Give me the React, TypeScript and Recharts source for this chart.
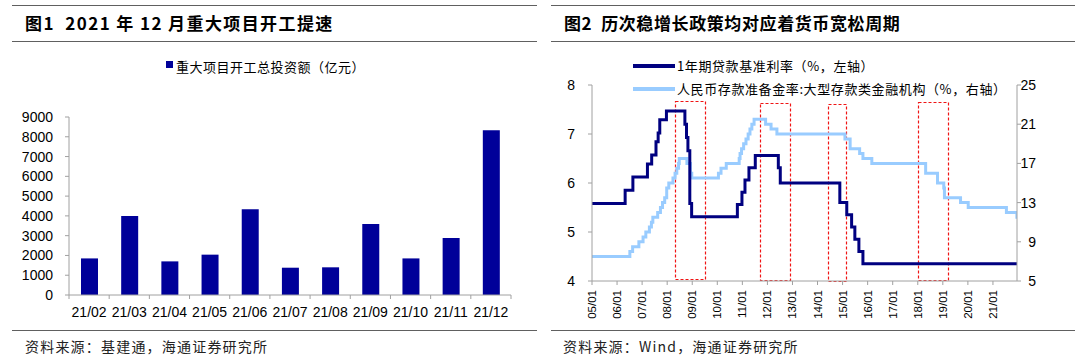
import React from 'react';
import { BarChart, Bar, XAxis, YAxis, LineChart, Line, ReferenceArea } from 'recharts';

// 图1 数据
const months = ['21/02', '21/03', '21/04', '21/05', '21/06', '21/07', '21/08', '21/09', '21/10', '21/11', '21/12'];
const investment = [1850, 4000, 1700, 2040, 4340, 1380, 1400, 3590, 1850, 2880, 8330];
const investTicks = [0, 1000, 2000, 3000, 4000, 5000, 6000, 7000, 8000, 9000];

// 图2 数据：调整日期与调整后的值
const loanDates = [
  '2005-01-01', '2006-04-28', '2006-08-19', '2007-03-18', '2007-05-19', '2007-07-21', '2007-08-22',
  '2007-09-15', '2007-12-21', '2008-09-16', '2008-10-09', '2008-10-30', '2008-11-27', '2008-12-23',
  '2010-10-20', '2010-12-26', '2011-02-09', '2011-04-06', '2011-07-07', '2012-06-08', '2012-07-06',
  '2014-11-22', '2015-03-01', '2015-05-11', '2015-06-28', '2015-08-26', '2015-10-24', '2021-12-31',
];
const loanRates = [
  5.58, 5.85, 6.12, 6.39, 6.57, 6.84, 7.02,
  7.29, 7.47, 7.2, 6.93, 6.66, 5.58, 5.31,
  5.56, 5.81, 6.06, 6.31, 6.56, 6.31, 6.0,
  5.6, 5.35, 5.1, 4.85, 4.6, 4.35, 4.35,
];
const rrrDates = [
  '2005-01-01', '2006-07-05', '2006-08-15', '2006-11-15', '2007-01-15', '2007-02-25', '2007-04-16',
  '2007-05-15', '2007-06-05', '2007-08-15', '2007-09-25', '2007-10-25', '2007-11-26', '2007-12-25',
  '2008-01-25', '2008-03-25', '2008-04-25', '2008-05-20', '2008-06-15', '2008-06-25', '2008-10-15',
  '2008-12-05', '2008-12-25', '2010-01-18', '2010-02-25', '2010-05-10', '2010-11-16', '2010-11-29',
  '2010-12-20', '2011-01-20', '2011-02-24', '2011-03-25', '2011-04-21', '2011-05-18', '2011-06-20',
  '2011-12-05', '2012-02-24', '2012-05-18', '2015-02-05', '2015-04-20', '2015-09-06', '2015-10-24',
  '2016-03-01', '2018-04-25', '2018-10-15', '2019-01-15', '2019-01-25', '2019-09-16', '2020-01-06',
  '2021-07-15', '2021-12-15', '2021-12-31',
];
const rrrValues = [
  7.5, 8.0, 8.5, 9.0, 9.5, 10.0, 10.5,
  11.0, 11.5, 12.0, 12.5, 13.0, 13.5, 14.5,
  15.0, 15.5, 16.0, 16.5, 17.0, 17.5, 17.0,
  16.0, 15.5, 16.0, 16.5, 17.0, 17.5, 18.0,
  18.5, 19.0, 19.5, 20.0, 20.5, 21.0, 21.5,
  21.0, 20.5, 20.0, 19.5, 18.5, 18.0, 17.5,
  17.0, 16.0, 15.0, 14.5, 13.5, 13.0, 12.5,
  12.0, 11.5, 11.5,
];
const yearTicks = [2005, 2006, 2007, 2008, 2009, 2010, 2011, 2012, 2013, 2014, 2015, 2016, 2017, 2018, 2019, 2020, 2021];
const leftTicks = [4, 5, 6, 7, 8];
const rightTicks = [5, 9, 13, 17, 21, 25];

// 红色虚线框（宽松周期）
const boxFrom = [2008.33, 2011.72, 2014.43, 2018.0];
const boxTo = [2009.53, 2012.93, 2015.15, 2019.19];
const boxTop = [7.67, 7.64, 7.62, 7.65];
const boxBottom = [4.03, 4.02, 4.0, 4.02];

const toYear = (d: string) => {
  const [y, m, day] = d.split('-').map(Number);
  return y + (m - 1 + (day - 1) / 31) / 12;
};

const barData = months.map((m, i) => ({ month: m, value: investment[i] }));
const loanData = loanDates.map((d, i) => ({ t: toYear(d), loan: loanRates[i] }));
const rrrData = rrrDates.map((d, i) => ({ t: toYear(d), rrr: rrrValues[i] }));

const NUM_FONT = '"Liberation Sans", Arial, sans-serif';
const CJK_FONT = '"Noto Sans CJK SC", "Noto Sans", sans-serif';
const AXIS = '#a0a0a0';
const BOX_RED = '#f01414';

const BAR_W = 540;
const BAR_MARGIN = { top: 117, right: 29, bottom: 35, left: 0 };
const BAR_YAXIS_W = 69;
const BAND = (BAR_W - BAR_MARGIN.right - BAR_YAXIS_W) / months.length;

// 类目轴：刻度线位于类目之间
const MonthTick = (props: any) => {
  const { x, y, payload, index } = props;
  const axisY = y - 12;
  return (
    <g>
      <line x1={x - BAND / 2} x2={x - BAND / 2} y1={axisY} y2={axisY + 4} stroke={AXIS} />
      {index === months.length - 1 && (
        <line x1={x + BAND / 2} x2={x + BAND / 2} y1={axisY} y2={axisY + 4} stroke={AXIS} />
      )}
      <text x={x} y={y} dy="0.71em" textAnchor="middle" fontSize={14} fontFamily={NUM_FONT} fill="#000">
        {payload.value}
      </text>
    </g>
  );
};

const RotatedTick = (props: any) => {
  const { x, y, payload } = props;
  const yy = String(payload.value).slice(2);
  return (
    <text x={x} y={y} dy="0.35em" textAnchor="end" transform={`rotate(-90 ${x} ${y})`}
      fontSize={11.5} fontFamily={NUM_FONT} fill="#000">{`${yy}/01`}</text>
  );
};

const RightTick = (props: any) => {
  const { x, y, payload } = props;
  return (
    <text x={x + 11} y={y} dy="0.35em" textAnchor="end" fontSize={14} fontFamily={NUM_FONT} fill="#000">
      {payload.value}
    </text>
  );
};

const DashedBox = (props: any) => (
  <rect x={Math.round(props.x) + 0.5} y={Math.round(props.y) + 0.5}
    width={Math.round(props.width)} height={Math.round(props.height)}
    fill="none" stroke={BOX_RED} strokeWidth={1.2} strokeDasharray="3 2" />
);

const rule = (left: number, top: number, width: number): React.CSSProperties => ({
  position: 'absolute', left, top, width, height: 0, borderTop: '1.5px solid #606060',
});

const App: React.FC = () => {
  return (
    <div style={{ position: 'absolute', left: 0, top: 0, width: 1080, height: 360, background: '#fff', overflow: 'hidden' }}>
      {/* 图1 */}
      <div style={rule(12, 5, 525)} />
      <div style={rule(12, 41, 525)} />
      <div style={rule(12, 330, 525)} />
      <div style={{ position: 'absolute', left: 25, top: 10, fontFamily: CJK_FONT, fontWeight: 700, fontSize: 17, letterSpacing: 1.4, whiteSpace: 'pre' }}>
        图1  2021 年 12 月重大项目开工提速
      </div>
      <div style={{ position: 'absolute', left: 25, top: 336, fontFamily: CJK_FONT, fontSize: 14, letterSpacing: 1.2, color: '#222' }}>
        资料来源：基建通，海通证券研究所
      </div>
      <div style={{ position: 'absolute', left: 0, top: 0 }}>
        <BarChart width={BAR_W} height={360} data={barData} margin={BAR_MARGIN}>
          <XAxis dataKey="month" height={30} tickLine={false} axisLine={{ stroke: AXIS }} tickSize={4} tickMargin={8}
            interval={0} tick={<MonthTick />} />
          <YAxis width={BAR_YAXIS_W} domain={[0, 9000]} ticks={investTicks} interval={0} tickSize={4} tickMargin={12}
            axisLine={{ stroke: AXIS }} tickLine={{ stroke: AXIS }}
            tick={{ fontSize: 14, fontFamily: NUM_FONT, fill: '#000' }} />
          <Bar dataKey="value" fill="#000099" barSize={17} isAnimationActive={false} />
        </BarChart>
      </div>
      <div style={{ position: 'absolute', left: 166, top: 61, width: 7, height: 7, background: '#000099' }} />
      <div style={{ position: 'absolute', left: 176, top: 57, fontFamily: CJK_FONT, fontSize: 13, letterSpacing: 0.5, color: '#000' }}>
        重大项目开工总投资额（亿元）
      </div>

      {/* 图2 */}
      <div style={rule(551, 5, 524)} />
      <div style={rule(551, 41, 524)} />
      <div style={rule(551, 330, 524)} />
      <div style={{ position: 'absolute', left: 564, top: 10, fontFamily: CJK_FONT, fontWeight: 700, fontSize: 17, letterSpacing: 0.6, whiteSpace: 'pre' }}>
        图2  历次稳增长政策均对应着货币宽松周期
      </div>
      <div style={{ position: 'absolute', left: 563, top: 336, fontFamily: CJK_FONT, fontSize: 14, letterSpacing: 1.2, color: '#222' }}>
        资料来源：Wind，海通证券研究所
      </div>
      <div style={{ position: 'absolute', left: 540, top: 0 }}>
        <LineChart width={540} height={360} margin={{ top: 85, right: 0, bottom: 35, left: 0 }}>
          <XAxis dataKey="t" type="number" domain={[2005, 2021.96]} ticks={yearTicks} allowDataOverflow
            height={44} tickSize={4} tickMargin={5} axisLine={{ stroke: AXIS }} tickLine={{ stroke: AXIS }}
            tick={<RotatedTick />} interval={0} />
          <YAxis yAxisId="left" width={52} domain={[4, 8]} ticks={leftTicks} interval={0} tickSize={4} tickMargin={13}
            axisLine={{ stroke: AXIS }} tickLine={{ stroke: AXIS }}
            tick={{ fontSize: 14, fontFamily: NUM_FONT, fill: '#000' }} />
          <YAxis yAxisId="right" orientation="right" width={63} domain={[5, 25]} ticks={rightTicks} interval={0}
            tickSize={4} tickMargin={4} axisLine={{ stroke: AXIS }} tickLine={{ stroke: AXIS }} tick={<RightTick />} />
          <Line yAxisId="right" data={rrrData} dataKey="rrr" type="stepAfter" stroke="#99CCFF" strokeWidth={3}
            dot={false} isAnimationActive={false} />
          <Line yAxisId="left" data={loanData} dataKey="loan" type="stepAfter" stroke="#000080" strokeWidth={3}
            dot={false} isAnimationActive={false} />
          {boxFrom.map((x1, i) => (
            <ReferenceArea key={`box-${i}`} yAxisId="left" x1={x1} x2={boxTo[i]} y1={boxBottom[i]} y2={boxTop[i]}
              shape={<DashedBox />} ifOverflow="visible" />
          ))}
        </LineChart>
      </div>
      <div style={{ position: 'absolute', left: 633, top: 64, width: 42, height: 4, background: '#000080' }} />
      <div style={{ position: 'absolute', left: 677, top: 56, fontFamily: CJK_FONT, fontSize: 13, letterSpacing: 0.6, color: '#000' }}>
        1年期贷款基准利率（%，左轴）
      </div>
      <div style={{ position: 'absolute', left: 633, top: 87, width: 42, height: 4, background: '#99CCFF' }} />
      <div style={{ position: 'absolute', left: 677, top: 79, fontFamily: CJK_FONT, fontSize: 13, letterSpacing: 0.6, color: '#000' }}>
        人民币存款准备金率:大型存款类金融机构（%，右轴）
      </div>
    </div>
  );
};

export default App;
